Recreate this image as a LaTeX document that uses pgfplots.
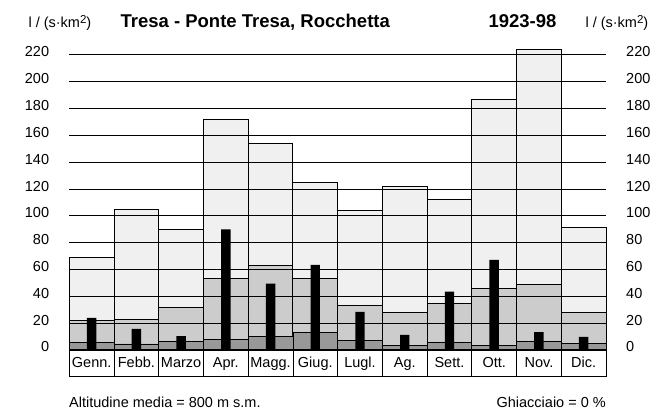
\documentclass[border=0pt]{standalone}
\usepackage{fontspec}
\setmainfont{Liberation Sans}
\usepackage{pgfplots}
\pgfplotsset{compat=1.18}
\definecolor{lightg}{HTML}{F0F0F0}
\definecolor{midg}{HTML}{CCCCCC}
\definecolor{darkg}{HTML}{999999}
\newcommand{\fs}{\fontsize{14.5}{17}\selectfont}
\newcommand{\unit}{l / (s·km\raisebox{0.55ex}{\fontsize{11.5}{12}\selectfont 2})}
\begin{document}
\begin{tikzpicture}
\path[use as bounding box] (0,0) rectangle (663pt,414pt);
\pgfplotsset{
  base/.style={
    at={(69.3pt,64pt)}, anchor=south west,
    scale only axis, width=536.7pt, height=295pt,
    xmin=0.5, xmax=12.5, ymin=0, ymax=220,
    ytick={0,20,...,220},
    axis line style={draw=none},
    tick style={draw=none},
    /pgf/number format/assume math mode=true,
    tick label style={font=\fs},
  }
}
\begin{axis}[base,
  axis on top, clip=false,
  ymajorgrids, grid style={black, line width=1pt},
  yticklabel style={anchor=east, inner sep=0pt, xshift=-20pt, yshift=3pt},
  xtick={1,...,12},
  xticklabels={Genn.,Febb.,Marzo,Apr.,Magg.,Giug.,Lugl.,Ag.,Sett.,Ott.,Nov.,Dic.},
  xticklabel style={draw=black, line width=0.8pt, minimum width=44.72pt,
    minimum height=26pt, inner sep=0pt, text height=10.5pt, text depth=3pt,
    anchor=north},
]
% upper level
\addplot[ybar, bar width=1, bar shift=0pt, fill=lightg, draw=black, line width=1pt]
  coordinates {(1,69) (2,105) (3,90) (4,172) (5,154) (6,125) (7,104) (8,122) (9,112) (10,187) (11,224) (12,91)};
% middle level
\addplot[ybar, bar width=1, bar shift=0pt, fill=midg, draw=black, line width=1pt]
  coordinates {(1,22) (2,23) (3,32) (4,53) (5,63) (6,53) (7,33) (8,28) (9,35) (10,46) (11,49) (12,28)};
% lower level
\addplot[ybar, bar width=1, bar shift=0pt, fill=darkg, draw=black, line width=0.7pt]
  coordinates {(1,5.5) (2,4.5) (3,6.5) (4,8) (5,10) (6,13) (7,7) (8,3.5) (9,5.5) (10,3.7) (11,6.2) (12,5.2)};
% black bars
\addplot[ybar, bar width=0.21, bar shift=0pt, fill=black, draw=none]
  coordinates {(1,24) (2,15.7) (3,10.4) (4,90) (5,49.5) (6,63.4) (7,28.4) (8,11.2) (9,43.5) (10,67.2) (11,13.4) (12,9.7)};
\end{axis}
\begin{axis}[base,
  hide x axis,
  yticklabel pos=right,
  yticklabel style={anchor=west, inner sep=0pt, xshift=20pt, yshift=3pt},
]
\addplot[draw=none] coordinates {(1,0)};
\end{axis}
\node[anchor=base west, font=\fs] at (25pt,386pt) {\unit};
\node[anchor=base west, font=\fontsize{18.5}{22}\selectfont\bfseries] at (117pt,386pt) {Tresa - Ponte Tresa, Rocchetta};
\node[anchor=base east, font=\fontsize{18.5}{22}\selectfont\bfseries] at (560pt,386pt) {1923-98};
\node[anchor=base west, font=\fs] at (582pt,386pt) {\unit};
\node[anchor=base west, font=\fs, inner sep=0pt] at (69pt,6pt) {Altitudine media = 800 m s.m.};
\node[anchor=base east, font=\fs, inner sep=0pt] at (606pt,6pt) {Ghiacciaio = 0 \%};
\end{tikzpicture}
\end{document}
